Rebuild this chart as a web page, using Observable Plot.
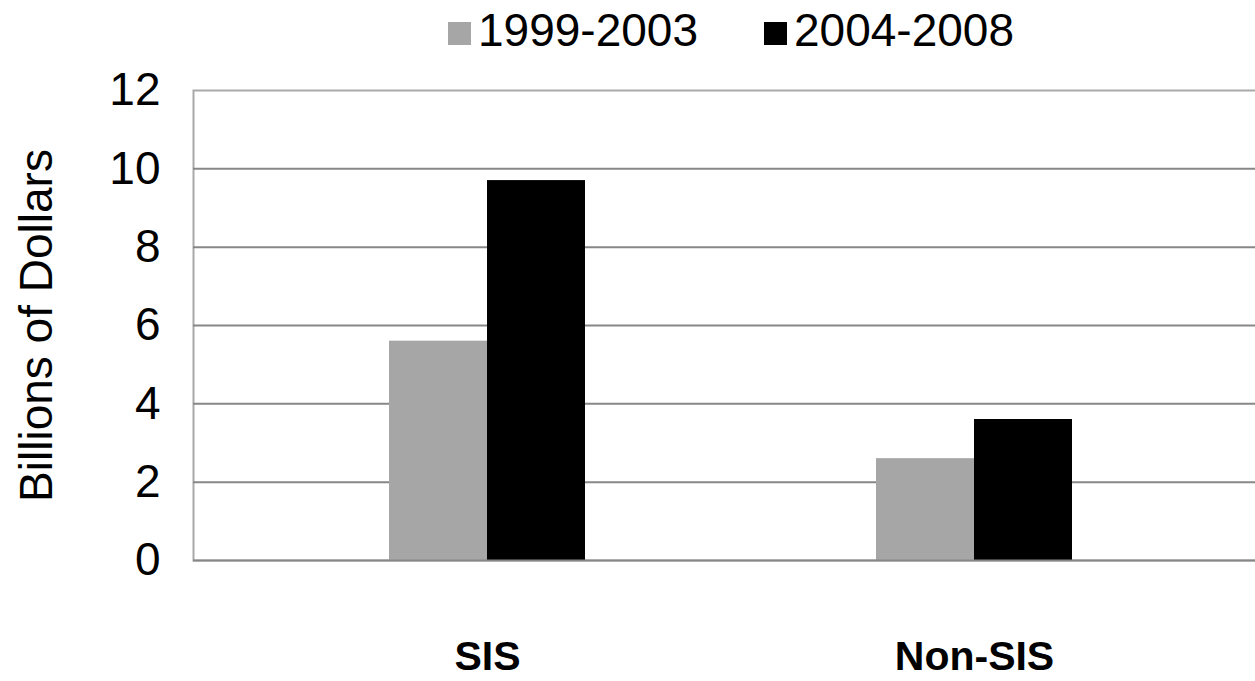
<!DOCTYPE html>
<html>
<head>
<meta charset="utf-8">
<script src="https://cdn.jsdelivr.net/npm/d3@7"></script>
<script src="https://cdn.jsdelivr.net/npm/@observablehq/plot@0.6"></script>
<style>
  html, body { margin: 0; padding: 0; background: #fff; overflow: hidden; }
  body { width: 1255px; height: 681px; position: relative; font-family: "Liberation Sans", Arial, sans-serif; }
  #legend { position: absolute; top: 0; left: 448px; height: 60px; display: flex; align-items: center; font-size: 46px; color: #000; white-space: nowrap; }
  .item { display: flex; align-items: center; margin-right: 66px; }
  .sw { width: 23px; height: 23px; margin-right: 7px; margin-top: 6px; }
  #chart { position: absolute; top: 60px; left: 0; }
</style>
</head>
<body>
<div id="legend"></div>
<div id="chart"></div>
<script>
const categories = ["SIS", "Non-SIS"];
const series = ["1999-2003", "2004-2008"];
const values1999_2003 = [5.6, 2.6];
const values2004_2008 = [9.7, 3.6];
const yTicks = [0, 2, 4, 6, 8, 10, 12];
const colors = ["#a6a6a6", "#000000"];

const data1 = categories.map((c, i) => ({category: c, value: values1999_2003[i]}));
const data2 = categories.map((c, i) => ({category: c, value: values2004_2008[i]}));

const legend = document.getElementById("legend");
series.forEach((s, i) => {
  const it = document.createElement("div");
  it.className = "item";
  const sw = document.createElement("div");
  sw.className = "sw";
  sw.style.background = colors[i];
  const t = document.createElement("span");
  t.textContent = s;
  it.appendChild(sw); it.appendChild(t);
  legend.appendChild(it);
});

const chart = Plot.plot({
  width: 1255,
  height: 621,
  marginTop: 30,
  marginBottom: 121,
  marginLeft: 193,
  marginRight: -6,
  style: {fontFamily: "'Liberation Sans', Arial, sans-serif", background: "transparent", overflow: "visible"},
  x: {domain: categories, range: [193, 1267], paddingInner: 0.598, paddingOuter: 0.4, label: null},
  y: {domain: [0, 12], label: null},
  marks: [
    Plot.frame({stroke: "#a9a9a9", strokeWidth: 2}),
    Plot.ruleY(yTicks.filter(d => d > 0 && d < 12), {stroke: "#878787", strokeWidth: 2}),
    Plot.barY(data1, {x: "category", y: "value", fill: colors[0], insetRight: 98}),
    Plot.barY(data2, {x: "category", y: "value", fill: colors[1], insetLeft: 98}),
    Plot.ruleY([0], {stroke: "#878787", strokeWidth: 2}),
    Plot.axisY({ticks: yTicks, tickSize: 0, tickPadding: 33, fontSize: 46, fill: "#000", label: null}),
    Plot.axisX({tickSize: 0, tickPadding: 80, fontSize: 41, fontWeight: "bold", fill: "#000", label: null}),
    Plot.text(["Billions of Dollars"], {frameAnchor: "left", dx: -156, rotate: -90, fontSize: 46, fill: "#000", textAnchor: "middle"})
  ]
});
document.getElementById("chart").appendChild(chart);
</script>
</body>
</html>
